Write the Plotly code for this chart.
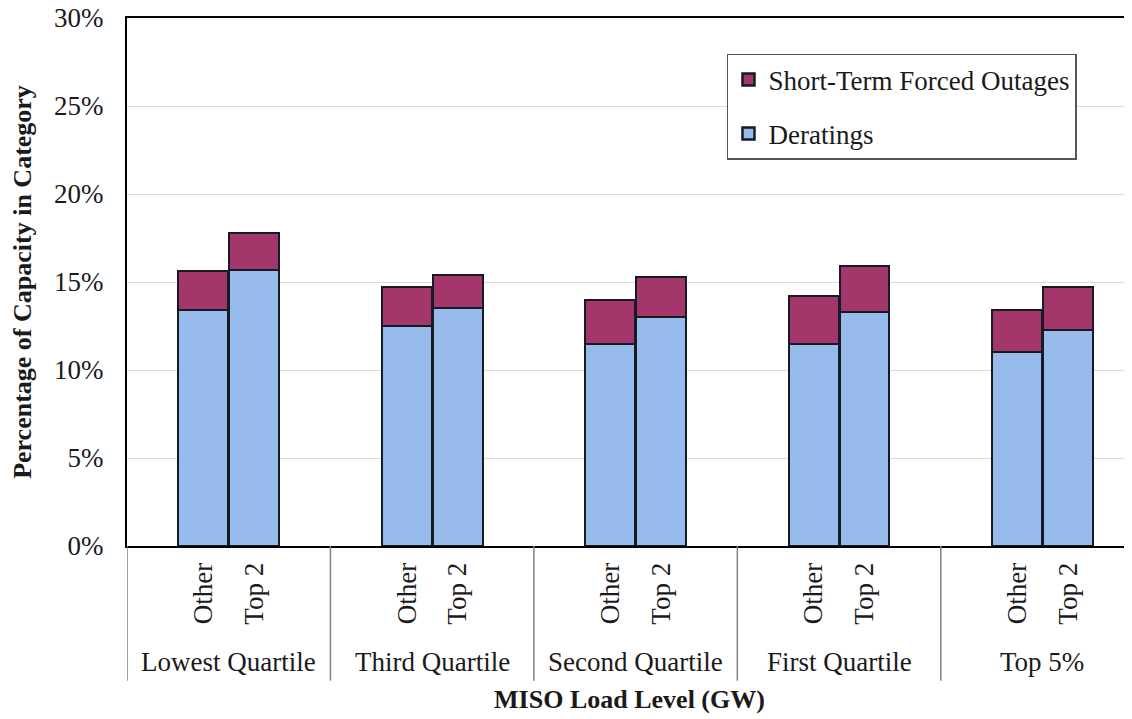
import plotly.graph_objects as go

groups = ['Lowest Quartile', 'Third Quartile', 'Second Quartile', 'First Quartile', 'Top 5%']
subgroups = ['Other', 'Top 2']

# percent of capacity
deratings_other = [13.4, 12.5, 11.5, 11.5, 11.0]
deratings_top2 = [15.7, 13.5, 13.0, 13.3, 12.3]
outages_other = [2.2, 2.2, 2.5, 2.7, 2.4]
outages_top2 = [2.1, 1.9, 2.3, 2.6, 2.4]

y_ticks = [0, 5, 10, 15, 20, 25, 30]

FONT = 'Liberation Serif'
BLUE = '#97bcec'
MAROON = '#a3376c'
EDGE = '#151a26'

offset = 0.125
bar_w = 0.245

x_pos = []
tick_text = []
derat = []
outage = []
for i in range(len(groups)):
    x_pos += [i - offset, i + offset]
    tick_text += subgroups
    derat += [deratings_other[i] / 100, deratings_top2[i] / 100]
    outage += [outages_other[i] / 100, outages_top2[i] / 100]

traces = [
    go.Bar(
        x=x_pos, y=derat, width=bar_w, name='Deratings',
        legendgroup='d', legendrank=2,
        marker=dict(color=BLUE, line=dict(color=EDGE, width=2.5)),
    ),
    go.Bar(
        x=x_pos, y=outage, width=bar_w, name='Short-Term Forced Outages',
        legendgroup='o', legendrank=1,
        marker=dict(color=MAROON, line=dict(color=EDGE, width=2.5)),
    ),
]

shapes = []
for k in range(len(groups)):
    shapes.append(dict(
        type='line', xref='x', yref='paper',
        x0=k - 0.5, x1=k - 0.5, y0=0, y1=-0.255,
        line=dict(color='#808080', width=1.5),
    ))

annotations = []
for i, g in enumerate(groups):
    annotations.append(dict(
        x=i, y=-0.22, xref='x', yref='paper', text=g, showarrow=False,
        xanchor='center', yanchor='middle',
        font=dict(family=FONT, size=27, color='#1a1a1a'),
    ))

# page body adds an 8px offset, so the figure is sized to fit the window
layout = go.Layout(
    width=1124,
    height=711,
    barmode='stack',
    bargap=0,
    plot_bgcolor='white',
    paper_bgcolor='white',
    margin=dict(l=119, r=0, t=10, b=173),
    font=dict(family=FONT, size=27, color='#1a1a1a'),
    legend=dict(
        x=0.597, y=0.932, xanchor='left', yanchor='top',
        traceorder='grouped', tracegroupgap=16,
        bordercolor='#555555', borderwidth=1.5,
        font=dict(family=FONT, size=27, color='#1a1a1a'),
    ),
    xaxis=dict(
        range=[-0.5, 4.44],
        tickmode='array',
        tickvals=x_pos,
        ticktext=tick_text,
        tickangle=-90,
        ticks='',
        ticklabelstandoff=4,
        showgrid=False,
        zeroline=False,
        showline=True,
        linecolor='black',
        linewidth=2,
        mirror=True,
        automargin=False,
        title=dict(
            text='<b>MISO Load Level (GW)</b>',
            font=dict(family=FONT, size=26, color='#1a1a1a'),
            standoff=66,
        ),
    ),
    yaxis=dict(
        range=[0, 0.30],
        tickvals=[v / 100 for v in y_ticks],
        tickformat='.0%',
        ticks='',
        ticklabelstandoff=16,
        ticklabeloverflow='allow',
        showgrid=True,
        gridcolor='#d9d9d9',
        gridwidth=1,
        zeroline=False,
        showline=True,
        linecolor='black',
        linewidth=2,
        automargin=False,
        title=dict(
            text='<b>Percentage of Capacity in Category</b>',
            font=dict(family=FONT, size=26, color='#1a1a1a'),
            standoff=17,
        ),
    ),
    shapes=shapes,
    annotations=annotations,
)

fig = go.Figure(data=traces, layout=layout)
fig.write_html('out.html')
